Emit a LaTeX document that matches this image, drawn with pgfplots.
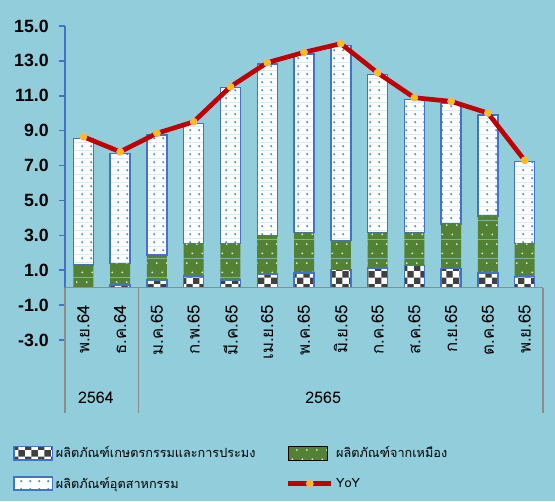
\documentclass[border=0pt]{standalone}
\usepackage{fontspec}
\setmainfont{Liberation Sans}
\newfontfamily\thaifont[Script=Thai]{Loma}
\usepackage{pgfplots}
\pgfplotsset{compat=1.18}
\usetikzlibrary{patterns.meta,backgrounds}

\definecolor{bg}{HTML}{92CDDC}
\definecolor{mblue}{HTML}{4472C4}
\definecolor{dotblue}{HTML}{4F8FD0}
\definecolor{mgreen}{HTML}{548235}
\definecolor{mred}{HTML}{C00000}
\definecolor{mgold}{HTML}{FFC000}
\definecolor{mpeach}{HTML}{F4B183}
\definecolor{checkdark}{HTML}{404040}
\definecolor{sepgray}{HTML}{8C8C8C}

\tikzdeclarepattern{
  name=bluedots, type=colored,
  bottom left={(0pt,0pt)}, top right={(6.5pt,6.2pt)},
  tile size={(6.5pt,6.2pt)},
  code={
    \fill[white] (0pt,0pt) rectangle (6.5pt,6.2pt);
    \fill[dotblue] (3.25pt,3.1pt) circle (0.95pt);
  }
}
\tikzdeclarepattern{
  name=greendots, type=colored,
  bottom left={(0pt,0pt)}, top right={(7.5pt,14pt)},
  tile size={(7.5pt,14pt)},
  code={
    \fill[mgreen] (0pt,0pt) rectangle (7.5pt,14pt);
    \fill[white!80!mgreen] (1.9pt,3.5pt) circle (0.8pt);
    \fill[white!80!mgreen] (5.6pt,10.5pt) circle (0.8pt);
  }
}
\tikzdeclarepattern{
  name=checker, type=colored,
  bottom left={(0pt,0pt)}, top right={(9.6pt,9.6pt)},
  tile size={(9.6pt,9.6pt)},
  code={
    \fill[white] (0pt,0pt) rectangle (9.6pt,9.6pt);
    \fill[checkdark] (0pt,0pt) rectangle (4.8pt,4.8pt);
    \fill[checkdark] (4.8pt,4.8pt) rectangle (9.6pt,9.6pt);
  }
}
\pgfplotsset{
  frame/.style={at={(48.75pt,120.75pt)}, anchor=south west,
    scale only axis, width=358.5pt, height=235.5pt,
    xmin=-0.5, xmax=12.5, ymin=-3, ymax=15, clip=false},
  yoystyle/.style={sharp plot, draw=mred, line width=3.5pt, mark=*, mark size=2.6pt,
    mark options={fill=mgold, draw=mpeach, line width=0.6pt}},
  yoylegend/.style={legend image code/.code={\draw[##1, mark=none] (0pt,0pt) -- (32pt,0pt); \draw[##1] plot coordinates {(16pt,0pt)};}},
  barlegend/.style={legend image code/.code={\draw[##1] (0pt,-5pt) rectangle (29pt,5pt);}},
}

\begin{document}
\begin{tikzpicture}
\begin{axis}[
  frame,
  ybar stacked, bar width=15pt,
  xtick={0,...,12},
  xticklabels={พ.ย.64, ธ.ค.64, ม.ค.65, ก.พ.65, มี.ค.65, เม.ย.65, พ.ค.65, มิ.ย.65, ก.ค.65, ส.ค.65, ก.ย.65, ต.ค.65, พ.ย.65},
  ytick={-3,-1,...,15},
  axis lines*=left,
  x axis line style={draw=none},
  y axis line style={draw=mblue, line width=1.1pt},
  tick align=outside,
  major tick length=4.5pt,
  ytick style={draw=mblue, line width=1.1pt},
  xtick style={draw=none},
  yticklabel style={font=\fontsize{13.3}{16}\selectfont\bfseries, inner sep=0pt, xshift=-7.5pt,
    /pgf/number format/fixed, /pgf/number format/fixed zerofill,
    /pgf/number format/precision=1, /pgf/number format/assume math mode=true},
  xticklabel style={font=\thaifont\fontsize{12.6}{14}\selectfont, rotate=90, anchor=east, inner sep=0pt},
  xticklabel shift=-31pt,
  legend columns=2,
  legend cell align=left,
  legend style={at={(axis description cs:-0.109,-0.33)}, anchor=north west, draw=none, fill=none,
    font=\thaifont\fontsize{9.5}{11}\selectfont, row sep=9pt, inner sep=0pt,
    /tikz/every even column/.append style={column sep=21pt}},
]
\draw[sepgray, line width=1.1pt] (axis cs:-0.5,0) -- (axis cs:12.5,0);
\draw[sepgray, line width=1.1pt] (axis cs:-0.5,0) -- (axis cs:-0.5,-7.2);
\draw[sepgray, line width=1.1pt] (axis cs:1.5,0) -- (axis cs:1.5,-7.2);
\draw[sepgray, line width=1.1pt] (axis cs:12.5,0) -- (axis cs:12.5,-7.2);
\node[font=\thaifont\fontsize{12}{14}\selectfont] at (axis cs:0.34,-6.3) {2564};
\node[font=\thaifont\fontsize{12}{14}\selectfont] at (axis cs:6.52,-6.3) {2565};

\addplot[draw=mblue, line width=1.1pt, pattern=checker, barlegend]
  coordinates {(0,0) (1,0.15) (2,0.44) (3,0.67) (4,0.44) (5,0.78) (6,0.85) (7,1.05) (8,1.14) (9,1.26) (10,1.11) (11,0.85) (12,0.63)};
\addlegendentry{ผลิตภัณฑ์เกษตรกรรมและการประมง}
\addplot[draw=none, pattern=greendots, barlegend]
  coordinates {(0,1.30) (1,1.24) (2,1.43) (3,1.87) (4,2.10) (5,2.18) (6,2.30) (7,1.64) (8,2.01) (9,1.89) (10,2.54) (11,3.26) (12,1.91)};
\addlegendentry{ผลิตภัณฑ์จากเหมือง}
\addplot[draw=mblue, line width=1.1pt, pattern=bluedots, barlegend]
  coordinates {(0,7.26) (1,6.31) (2,6.88) (3,6.88) (4,8.92) (5,9.86) (6,10.24) (7,11.18) (8,9.08) (9,7.65) (10,6.92) (11,5.79) (12,4.68)};
\addlegendentry{ผลิตภัณฑ์อุตสาหกรรม}
\addlegendimage{yoystyle, yoylegend}
\addlegendentry{YoY}
\end{axis}
\begin{axis}[frame, hide axis]
\addplot[yoystyle]
  coordinates {(0,8.65) (1,7.79) (2,8.85) (3,9.51) (4,11.52) (5,12.90) (6,13.49) (7,13.99) (8,12.32) (9,10.89) (10,10.68) (11,10.01) (12,7.30)};
\end{axis}
\begin{scope}[on background layer]
\fill[bg] (0pt,0pt) rectangle (416.25pt,375.75pt);
\end{scope}
\pgfresetboundingbox
\path[use as bounding box] (0pt,0pt) rectangle (416.25pt,375.75pt);
\end{tikzpicture}
\end{document}
